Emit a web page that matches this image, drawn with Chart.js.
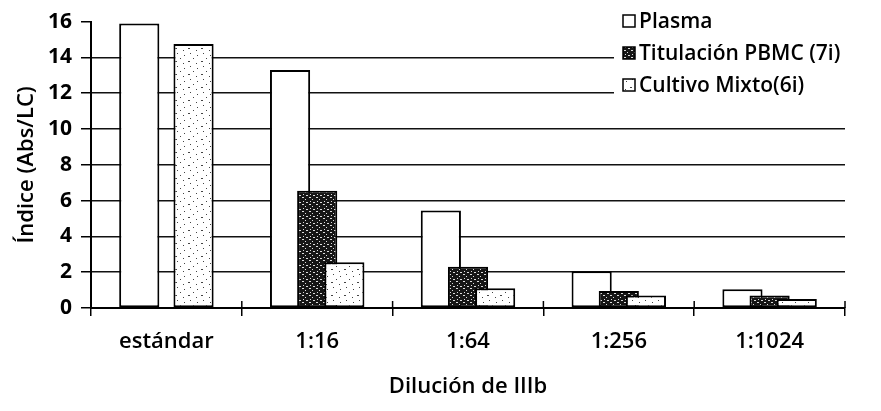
<!DOCTYPE html>
<html>
<head>
<meta charset="utf-8">
<script src="https://cdn.jsdelivr.net/npm/chart.js@4.4.1/dist/chart.umd.min.js"></script>
<style>
  html, body { margin: 0; padding: 0; background: #fff; }
  #wrap { width: 881px; height: 411px; }
</style>
</head>
<body>
<div id="wrap"><canvas id="dilucion" width="881" height="411"></canvas></div>
<script>
// Data
const categories = ['estándar', '1:16', '1:64', '1:256', '1:1024'];
const plasma = [15.9, 13.3, 5.45, 2.05, 1.05];
const titulacionPBMC = [null, 6.55, 2.3, 0.95, 0.7];
const cultivoMixto = [14.75, 2.55, 1.1, 0.7, 0.5];
const seriesNames = ['Plasma', 'Titulación PBMC (7i)', 'Cultivo Mixto(6i)'];
const yTicks = [0, 2, 4, 6, 8, 10, 12, 14, 16];

// small fill patterns, fixed dots so every run looks the same
function makePattern(size, bg, dotColor, dots) {
  const c = document.createElement('canvas');
  c.width = size;
  c.height = size;
  const g = c.getContext('2d');
  g.fillStyle = bg;
  g.fillRect(0, 0, size, size);
  g.fillStyle = dotColor;
  dots.forEach(d => g.fillRect(d[0], d[1], d[2] || 1, d[3] || 1));
  return g.createPattern(c, 'repeat');
}
const darkFill = makePattern(7, '#161616', '#dcdcdc', [[1, 1, 2, 1], [4, 3], [2, 5], [5, 6, 2, 1]]);
const lightFill = makePattern(13, '#ffffff', '#444', [[2, 3], [8, 1], [6, 9, 2, 1], [11, 6], [1, 11]]);
const fills = ['#ffffff', darkFill, lightFill];

// draw datasets in index order so later series sit on top
const drawOrderPlugin = {
  id: 'drawOrder',
  beforeDatasetsDraw(chart) {
    for (let i = 0; i < chart.data.datasets.length; i++) {
      chart.getDatasetMeta(i).controller.draw();
    }
    return false;
  }
};

// tick marks on the x axis cross the axis line
const crossTicksPlugin = {
  id: 'crossTicks',
  afterDraw(chart) {
    const xs = chart.scales.x;
    const ctx = chart.ctx;
    const y0 = chart.chartArea.bottom;
    ctx.save();
    ctx.strokeStyle = '#000';
    ctx.lineWidth = 1.5;
    for (let i = 0; i <= categories.length; i++) {
      const px = xs.getPixelForValue(i - 0.5);
      ctx.beginPath();
      ctx.moveTo(px, y0 - 7);
      ctx.lineTo(px, y0);
      ctx.stroke();
    }
    ctx.restore();
  }
};

// Excel-like legend inside the top right corner, on a white panel
const boxLegendPlugin = {
  id: 'boxLegend',
  afterDraw(chart) {
    const ctx = chart.ctx;
    const area = chart.chartArea;
    const left = area.right - 231;
    ctx.save();
    ctx.fillStyle = '#fff';
    ctx.fillRect(left, 0, chart.width - left, 100);
    ctx.font = '600 21px "Open Sans"';
    ctx.textBaseline = 'middle';
    chart.data.datasets.forEach((ds, i) => {
      const cy = 21 + i * 32;
      ctx.fillStyle = ds.backgroundColor;
      ctx.fillRect(left + 9, cy - 6, 12, 12);
      ctx.strokeStyle = '#000';
      ctx.lineWidth = 1.5;
      ctx.strokeRect(left + 9, cy - 6, 12, 12);
      ctx.fillStyle = '#000';
      ctx.fillText(ds.label, left + 25, cy + 1);
    });
    ctx.restore();
  }
};

const seriesData = [plasma, titulacionPBMC, cultivoMixto];

new Chart(document.getElementById('dilucion'), {
  type: 'bar',
  data: {
    labels: categories,
    datasets: seriesData.map((vals, i) => ({
      label: seriesNames[i],
      data: vals,
      backgroundColor: fills[i],
      borderColor: '#000',
      borderWidth: 2,
      borderSkipped: false,
      categoryPercentage: 0.54,
      barPercentage: 1.48
    }))
  },
  options: {
    responsive: false,
    animation: false,
    layout: { padding: { left: 0, right: 36, top: 20, bottom: 0 } },
    plugins: {
      legend: { display: false },
      tooltip: { enabled: false }
    },
    scales: {
      x: {
        afterFit: (scale) => { scale.height = 103; },
        grid: {
          drawOnChartArea: false,
          drawTicks: true,
          tickLength: 8,
          color: '#000',
          lineWidth: 1.5
        },
        border: { display: true, color: '#000', width: 2 },
        ticks: {
          color: '#000',
          padding: 13,
          font: { family: 'Open Sans', size: 22, weight: '600' }
        },
        title: {
          display: true,
          text: 'Dilución de IIIb',
          color: '#000',
          padding: { top: 0, bottom: 11 },
          font: { family: 'Open Sans', size: 22, weight: '600' }
        }
      },
      y: {
        min: 0,
        max: 16,
        afterFit: (scale) => { scale.width = 91; },
        afterBuildTicks: (scale) => { scale.ticks = yTicks.map(v => ({ value: v })); },
        grid: {
          color: (c) => (c.tick && c.tick.value === 16 ? 'rgba(0,0,0,0)' : '#111'),
          tickColor: '#000',
          lineWidth: 1.5,
          tickLength: 10
        },
        border: { display: true, color: '#000', width: 2 },
        ticks: {
          color: '#000',
          padding: 9,
          font: { family: 'Open Sans', size: 21, weight: 'bold' }
        },
        title: {
          display: true,
          text: 'Índice (Abs/LC)',
          color: '#000',
          padding: { top: 14, bottom: 0 },
          font: { family: 'Open Sans', size: 22, weight: '600' }
        }
      }
    }
  },
  plugins: [drawOrderPlugin, crossTicksPlugin, boxLegendPlugin]
});
</script>
</body>
</html>
